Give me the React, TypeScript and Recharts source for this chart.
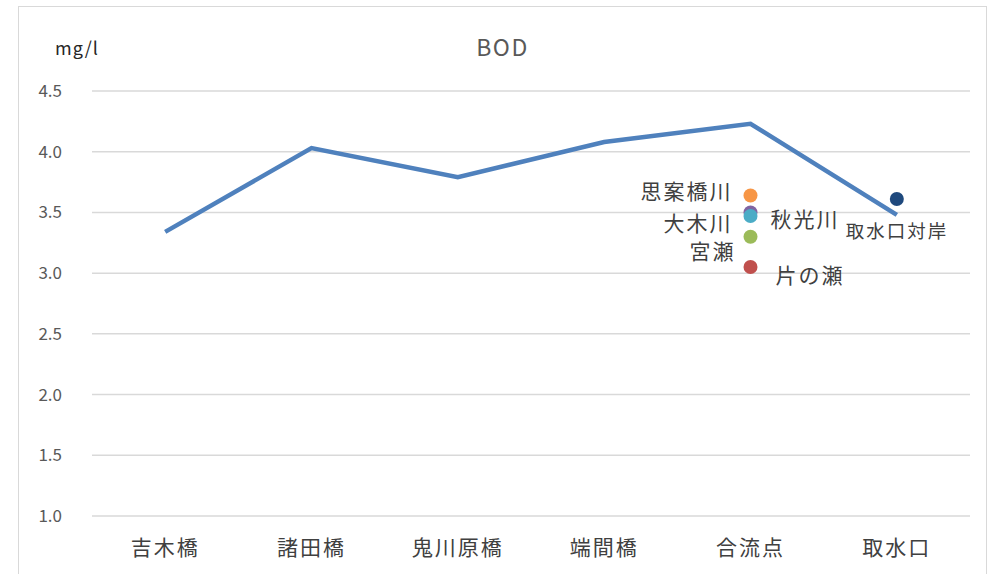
import React from 'react';
import { ComposedChart, Line, XAxis, YAxis, CartesianGrid } from 'recharts';

const categories = ['吉木橋', '諸田橋', '鬼川原橋', '端間橋', '合流点', '取水口'];
const bod = [3.34, 4.03, 3.79, 4.08, 4.23, 3.48];

// tributaries / opposite bank, one point each
const shianbashi = [null, null, null, null, 3.64, null];
const akimitsu = [null, null, null, null, 3.5, null];
const ooki = [null, null, null, null, 3.47, null];
const miyase = [null, null, null, null, 3.3, null];
const katanose = [null, null, null, null, 3.05, null];
const taigan = [null, null, null, null, null, 3.61];

const yTicks = [1.0, 1.5, 2.0, 2.5, 3.0, 3.5, 4.0, 4.5];

const FONT = '"Noto Sans CJK JP", "Noto Sans", sans-serif';

const pointSeries = [
  { key: 'shianbashi', name: '思案橋川', values: shianbashi, color: '#F79646', dx: -18, dy: -5, anchor: 'end', size: 21 },
  { key: 'akimitsu', name: '秋光川', values: akimitsu, color: '#8064A2', dx: 20, dy: 6, anchor: 'start', size: 21 },
  { key: 'ooki', name: '大木川', values: ooki, color: '#4BACC6', dx: -18, dy: 6, anchor: 'end', size: 21 },
  { key: 'miyase', name: '宮瀬', values: miyase, color: '#9BBB59', dx: -15, dy: 13, anchor: 'end', size: 21 },
  { key: 'katanose', name: '片の瀬', values: katanose, color: '#C0504D', dx: 25, dy: 7, anchor: 'start', size: 21 },
  { key: 'taigan', name: '取水口対岸', values: taigan, color: '#1F497D', dx: -51, dy: 31, anchor: 'start', size: 18.5 },
];

const data = categories.map((c, i) => {
  const row: Record<string, any> = { name: c, bod: bod[i] };
  pointSeries.forEach(s => { row[s.key] = s.values[i]; });
  return row;
});

const makeDot = (s: typeof pointSeries[number]) => (props: any) => {
  const { cx, cy, value, index } = props;
  if (value == null || cx == null || cy == null) return <g key={`${s.key}-${index}`} />;
  return (
    <g key={`${s.key}-${index}`}>
      <circle cx={cx} cy={cy} r={7} fill={s.color} />
      <text
        x={cx + s.dx}
        y={cy + s.dy}
        textAnchor={s.anchor as any}
        dominantBaseline="central"
        fontSize={s.size}
        fontFamily={FONT}
        fill="#404040"
        letterSpacing={2}
      >
        {s.name}
      </text>
    </g>
  );
};

const App: React.FC = () => {
  return (
    <div style={{ position: 'absolute', left: 0, top: 0, width: 998, height: 574, overflow: 'hidden', background: '#fff' }}>
      <div style={{ position: 'absolute', left: 18, top: 6, width: 967, height: 620, border: '1.5px solid #d9d9d9' }} />
      <div style={{ position: 'absolute', left: 0, top: 29, width: 1005, textAlign: 'center', fontFamily: FONT, fontSize: 23, letterSpacing: 1.5, color: '#595959' }}>
        BOD
      </div>
      <div style={{ position: 'absolute', left: 55, top: 34, fontFamily: FONT, fontSize: 18, letterSpacing: 1, color: '#262626' }}>
        mg/l
      </div>
      <ComposedChart
        width={998}
        height={574}
        data={data}
        margin={{ top: 91, right: 28, bottom: 18, left: 0 }}
        style={{ position: 'absolute', left: 0, top: 0 }}
      >
        <CartesianGrid vertical={false} stroke="#d9d9d9" strokeWidth={1.5} />
        <XAxis
          dataKey="name"
          scale="band"
          height={40}
          axisLine={false}
          tickLine={false}
          tickSize={0}
          tickMargin={24}
          interval={0}
          tick={{ fill: '#404040', fontSize: 21, fontFamily: FONT, letterSpacing: 2 }}
        />
        <YAxis
          width={92}
          domain={[1, 4.5]}
          ticks={yTicks}
          tickFormatter={(v: number) => v.toFixed(1)}
          axisLine={false}
          tickLine={false}
          tickSize={0}
          tickMargin={30}
          tick={{ fill: '#595959', fontSize: 17, fontFamily: FONT }}
        />
        <Line
          dataKey="bod"
          type="linear"
          stroke="#4F81BD"
          strokeWidth={4.5}
          dot={false}
          activeDot={false}
          isAnimationActive={false}
        />
        {pointSeries.map(s => (
          <Line
            key={s.key}
            dataKey={s.key}
            stroke="none"
            strokeWidth={0}
            dot={makeDot(s)}
            activeDot={false}
            isAnimationActive={false}
          />
        ))}
      </ComposedChart>
    </div>
  );
};

export default App;
